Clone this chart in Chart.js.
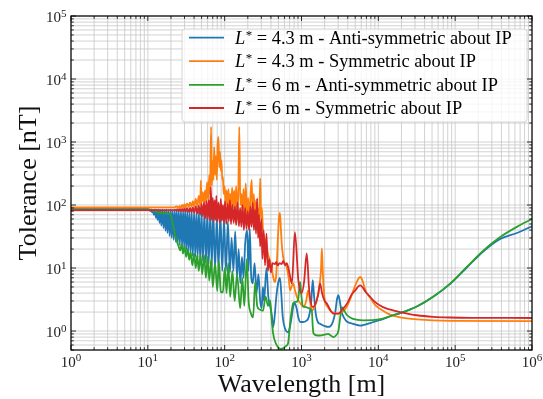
<!DOCTYPE html>
<html><head><meta charset="utf-8">
<script src="https://cdn.jsdelivr.net/npm/chart.js@4"></script>
<style>html,body{margin:0;padding:0;background:#fff;}#wrap{width:543px;height:399px;}</style>
</head><body><div id="wrap"><canvas id="c" width="543" height="399"></canvas></div>
<script>
// ---- data (wavelength in m, tolerance in nT) ----
const wlBlue = [1,10,10.5,10.8,11.1,11.4,11.7,12.0,12.4,12.7,13.0,13.4,13.8,14.2,14.6,15.0,15.5,16.0,16.5,17.0,17.5,18.0,18.6,19.2,19.8,20.4,21.0,21.7,22.4,23.1,23.8,24.5,25.3,26.1,27.0,27.9,28.8,29.7,30.6,31.6,32.6,33.7,34.8,36,37.2,38.5,40,41.5,43,44.5,46.2,48,50,52,54.5,57,59.5,62,65,68,71,75,79,83,88,93,98,104,110,117,123,130,137,145,152,160,168,176,185,196,204,212,222,232,245,260,275,290,303,315,325,350,370,390,410,427,445,470,500,525,545,570,610,669,700,740,778,820,870,903,960,1040,1150,1250,1340,1400,1460,1540,1650,1750,2000,2220,2500,2750,2900,3020,3150,3300,3600,3925,4700,5800,6500,7800,9500,11500,14000,16500,19200,31700,51700,86000,142000,234000,386000,636000,1000000];
const tolBlue = [86,86,84,80,85,76,84,70,85,63,84,58,85,52,84,47,85,43,84,39,85,36,84,32,85,30,84,28,85,26,84,24.5,84,23,85,22,84,21,84,19,83,18,83,16.5,82,15.5,80,15,82,14.5,80,13.5,82,13,78,12,80,11.5,75,11,78,10,65,10,70,9,60,9,55,8.5,30,9,38,7,20,5.7,15,7,25,40,9,43,7,5.7,12,4,8,3,2.3,5,3,10,3.5,2.5,1.8,1.16,1.6,3.5,6,7,4,1.67,1.1,0.96,1.1,1.6,2.4,2.75,2.2,1.7,1.4,1.39,1.45,1.7,3,6.4,3.5,1.8,1.35,1.3,1.2,1.16,1.3,2,3.2,3.7,3,2.1,1.6,1.4,1.3,1.22,1.25,1.33,1.45,1.55,1.7,1.82,1.92,2.45,3.5,5.6,10.2,18.5,29,36,46];

const wlOrange = [1,22,24,25,26,27,28,29,30,31,32.5,34,35.5,37,38.5,40,42,44,46,48,49,50,52,53.5,55.6,57,59,61,63,64.5,66.5,68,70,71.5,73,75,77,79,81,83,85,87,89,91,93,95,97,100,103,106,109,112,115,118,121,125,129,133,137,141,145,150,155,160,165,170,176,182,188,195,202,210,218,225,232,240,248,256,264,272,280,290,298,305,315,330,350,370,390,410,430,450,470,490,510,525,540,560,600,640,680,710,740,780,820,870,910,980,1060,1150,1220,1290,1360,1450,1580,1700,1790,1840,1890,1950,2010,2200,2470,3020,3400,3860,4300,4700,5200,5800,6200,6800,7800,9200,11500,14000,19200,31700,86000,1000000];
const tolOrange = [92,92,95,90,97,90,100,91,103,92,105,93,110,94,115,95,125,96,140,100,245,110,160,105,170,110,230,120,300,150,1740,200,500,250,830,300,600,250,900,1200,400,700,350,510,250,280,150,200,100,170,90,180,85,150,80,190,90,170,80,200,90,130,1740,100,150,80,180,70,220,70,130,60,160,250,60,150,55,120,50,90,45,265,60,90,40,30,22,16,13,10,7,6,8,25,65,75,40,20,12,10.4,7,4.4,5,5.7,4.5,3.5,3.07,2.7,2.4,3,4.4,3,2.13,2.3,3.07,5,9,20.4,9,4.5,3.07,2.4,2.0,1.89,2.0,2.4,3.2,4.3,5.9,7.2,6.4,4.4,3.4,2.56,2.1,1.84,1.65,1.53,1.45,1.44];

const wlGreen = [1,10,11,12,14,16,18,19.5,20.5,21.5,22.5,24,25.5,26.3,27.5,28.7,30,31.5,33,34.5,36,38,40,42,44,46,48.5,51,54,57,60,63,67,70,75,80,84,89,95,100,106,111,118,126,135,145,159,170,180,194,205,220,234,250,265,285,316,340,367,390,410,427,460,496,540,576,630,669,711,750,778,850,903,959,1000,1040,1150,1250,1362,1400,1430,1600,1746,2000,2220,2400,2600,2800,3020,3200,3350,3600,3925,4700,6340,9000,11500,16500,19200,31700,51700,86000,142000,234000,386000,636000,1000000];
const tolGreen = [85,85,83,80,76,74,73,72,60,45,35,26,21,19,24,17,22,15,20,13.5,18,11,17,10,16,9,16,8,16,7,15,6.3,14,5,12,4.3,13,4.2,4.1,10,4,12,3.5,9,3,8,2.3,7,2.5,14,3,1.9,1.65,6,2.5,2.2,2.1,3.5,2.5,3.07,1.5,0.92,0.65,0.55,0.52,0.53,0.58,0.64,1.33,2.2,2.75,2.9,3.1,6,3.5,2.5,2.4,2.3,2.1,1.2,0.92,0.85,0.85,0.88,0.9,0.85,0.8,0.85,1.0,1.7,2.4,2.1,1.78,1.56,1.48,1.5,1.58,1.82,1.92,2.45,3.5,5.65,10.4,19,31,45,60];

const wlRed = [1,22,24,25,26,27,28,29,30,31,32.5,34,35.5,37,38.5,40,42,44,46,48,50,52,54,56,58,60,62,64,66,68,70,72,74,76,78,80,83,86,89,92,95,98,101,105,109,113,117,121,126,131,136,141,147,153,159,165,171,178,185,192,200,208,216,224,232,240,248,256,265,272,280,290,300,310,322,335,350,365,380,400,420,450,470,490,520,550,580,610,640,670,700,750,820,910,1000,1080,1170,1250,1290,1400,1500,1650,1746,1850,2000,2130,2400,2600,3000,3400,3925,4500,5000,5500,5800,6200,6800,7800,9000,11500,14000,19200,31700,51700,86000,200000,1000000];
const tolRed = [83,83,85,81,86,80,87,80,88,79,89,78,90,77,92,76,95,74,98,70,105,66,110,62,115,60,120,58,193,58,130,55,120,58,140,55,110,52,125,56,100,52,115,50,105,55,120,50,100,52,95,48,110,46,90,45,100,40,90,42,80,40,95,45,110,40,85,35,127,30,70,22,60,14,40,11,35,9,14,8.5,12,11.5,12.5,11,12,11.5,13,11,12,10.4,8,5.7,37,6.4,3.95,6,17,5,3.46,2.4,2.6,3.8,5.7,4,3,2.75,2.1,1.89,1.89,2.2,2.75,3.8,4.4,5.1,5.3,5,4.2,3.5,2.9,2.4,2.2,2.0,1.78,1.68,1.64,1.62,1.61];

const seriesNames = [
  'L* = 4.3 m - Anti-symmetric about IP',
  'L* = 4.3 m - Symmetric about IP',
  'L* = 6 m - Anti-symmetric about IP',
  'L* = 6 m - Symmetric about IP'
];
const seriesColors = ['#1f77b4','#ff7f0e','#2ca02c','#d62728'];
const xTickExponents = [0,1,2,3,4,5,6];
const yTickExponents = [0,1,2,3,4,5];
const xTitle = 'Wavelength [m]';
const yTitle = 'Tolerance [nT]';

const FONT = '"Liberation Serif","Times New Roman",serif';

function pts(xs, ys){ return xs.map((x,i)=>({x:x, y:ys[i]})); }
const allData = [[wlBlue,tolBlue],[wlOrange,tolOrange],[wlGreen,tolGreen],[wlRed,tolRed]];

const datasets = allData.map((d,i)=>({
  label: seriesNames[i],
  data: pts(d[0], d[1]),
  borderColor: seriesColors[i],
  backgroundColor: seriesColors[i],
  borderWidth: 1.8,
  pointRadius: 0,
  showLine: true,
  fill: false,
  tension: 0,
  cubicInterpolationMode: 'monotone',
  order: 4 - i
}));

function logGridValues(min, max){
  const v=[];
  for(let e=-2;e<=7;e++){
    for(let m=1;m<10;m++){
      const val = m*Math.pow(10,e);
      if(val>=min*0.9999 && val<=max*1.0001) v.push({val:val, major:m===1});
    }
  }
  return v;
}

const framePlugin = {
  id:'frame',
  beforeDatasetsDraw(chart){
    const {ctx, chartArea:a, scales:{x,y}} = chart;
    ctx.save();
    ctx.strokeStyle = '#c6c6c6';
    ctx.lineWidth = 0.8;
    logGridValues(x.min, x.max).forEach(t=>{
      const px = x.getPixelForValue(t.val);
      ctx.beginPath(); ctx.moveTo(px,a.top); ctx.lineTo(px,a.bottom); ctx.stroke();
    });
    logGridValues(y.min, y.max).forEach(t=>{
      const py = y.getPixelForValue(t.val);
      ctx.beginPath(); ctx.moveTo(a.left,py); ctx.lineTo(a.right,py); ctx.stroke();
    });
    ctx.restore();
  },
  afterDatasetsDraw(chart){
    const {ctx, chartArea:a, scales:{x,y}} = chart;
    ctx.save();
    // legend
    const bx=182, by=29, bw=345, bh=93, r=3;
    ctx.beginPath();
    ctx.moveTo(bx+r,by); ctx.lineTo(bx+bw-r,by); ctx.quadraticCurveTo(bx+bw,by,bx+bw,by+r);
    ctx.lineTo(bx+bw,by+bh-r); ctx.quadraticCurveTo(bx+bw,by+bh,bx+bw-r,by+bh);
    ctx.lineTo(bx+r,by+bh); ctx.quadraticCurveTo(bx,by+bh,bx,by+bh-r);
    ctx.lineTo(bx,by+r); ctx.quadraticCurveTo(bx,by,bx+r,by); ctx.closePath();
    ctx.fillStyle='rgba(255,255,255,0.8)'; ctx.fill();
    ctx.strokeStyle='#d4d4d4'; ctx.lineWidth=1; ctx.stroke();

    let fs = 16;
    ctx.font = fs+'px '+FONT;
    const w0 = ctx.measureText(seriesNames[0]).width;
    fs = Math.max(13, Math.min(19, fs*280/w0));
    const rows=[37.7,61.2,84.8,108];
    seriesNames.forEach((name,i)=>{
      const ry = rows[i];
      ctx.strokeStyle = seriesColors[i]; ctx.lineWidth=1.8;
      ctx.beginPath(); ctx.moveTo(189,ry); ctx.lineTo(224,ry); ctx.stroke();
      ctx.fillStyle='#000'; ctx.textAlign='left'; ctx.textBaseline='alphabetic';
      let tx=235; const base=ry+6;
      const rest = name.replace(/^L\*/,'');
      ctx.font = 'italic '+fs+'px '+FONT;
      ctx.fillText('L', tx, base); tx += ctx.measureText('L').width+0.5;
      ctx.font = Math.round(fs*0.72)+'px '+FONT;
      ctx.fillText('*', tx, base-fs*0.28); tx += ctx.measureText('*').width;
      ctx.font = fs+'px '+FONT;
      ctx.fillText(rest, tx, base);
    });

    // spines
    ctx.strokeStyle='#000'; ctx.lineWidth=1.2;
    ctx.strokeRect(a.left, a.top, a.right-a.left, a.bottom-a.top);
    // ticks (inward, all sides)
    ctx.lineWidth=0.8;
    logGridValues(x.min, x.max).forEach(t=>{
      const px = x.getPixelForValue(t.val); const L = t.major?5:2.8;
      ctx.beginPath(); ctx.moveTo(px,a.bottom); ctx.lineTo(px,a.bottom-L);
      ctx.moveTo(px,a.top); ctx.lineTo(px,a.top+L); ctx.stroke();
    });
    logGridValues(y.min, y.max).forEach(t=>{
      const py = y.getPixelForValue(t.val); const L = t.major?5:2.8;
      ctx.beginPath(); ctx.moveTo(a.left,py); ctx.lineTo(a.left+L,py);
      ctx.moveTo(a.right,py); ctx.lineTo(a.right-L,py); ctx.stroke();
    });

    // tick labels
    ctx.fillStyle='#222'; ctx.textBaseline='alphabetic'; ctx.textAlign='left';
    const big='15px '+FONT, small='11px '+FONT;
    xTickExponents.forEach(e=>{
      const px = x.getPixelForValue(Math.pow(10,e));
      ctx.font=big; const w1=ctx.measureText('10').width;
      ctx.font=small; const w2=ctx.measureText(String(e)).width;
      const sx = px-(w1+w2)/2;
      ctx.font=big; ctx.fillText('10', sx, 366.7);
      ctx.font=small; ctx.fillText(String(e), sx+w1, 361.3);
    });
    yTickExponents.forEach(e=>{
      const py = y.getPixelForValue(Math.pow(10,e));
      ctx.font=big; const w1=ctx.measureText('10').width;
      ctx.font=small; const w2=ctx.measureText(String(e)).width;
      const ex = a.left-4.5;
      ctx.font=small; ctx.fillText(String(e), ex-w2, py+0.8);
      ctx.font=big; ctx.fillText('10', ex-w2-w1, py+6);
    });

    // axis titles
    ctx.fillStyle='#111';
    ctx.font='26px '+FONT; ctx.textAlign='center';
    ctx.fillText(xTitle, (a.left+a.right)/2, 392);
    ctx.translate(36, (a.top+a.bottom)/2);
    ctx.rotate(-Math.PI/2);
    ctx.fillText(yTitle, 0, 0);
    ctx.restore();
  }
};

new Chart(document.getElementById('c').getContext('2d'), {
  type:'scatter',
  data:{datasets:datasets},
  options:{
    responsive:false, animation:false, devicePixelRatio:1, events:[],
    layout:{padding:{top:16,right:11,left:0,bottom:0}},
    plugins:{legend:{display:false}, tooltip:{enabled:false}, title:{display:false}},
    scales:{
      x:{type:'logarithmic', min:1, max:1e6, grid:{display:false, drawTicks:false}, border:{display:false}, ticks:{display:false}, afterFit(s){ s.height=49; }},
      y:{type:'logarithmic', min:0.5, max:1e5, grid:{display:false, drawTicks:false}, border:{display:false}, ticks:{display:false}, afterFit(s){ s.width=71; }}
    }
  },
  plugins:[framePlugin]
});
</script>
</body></html>
